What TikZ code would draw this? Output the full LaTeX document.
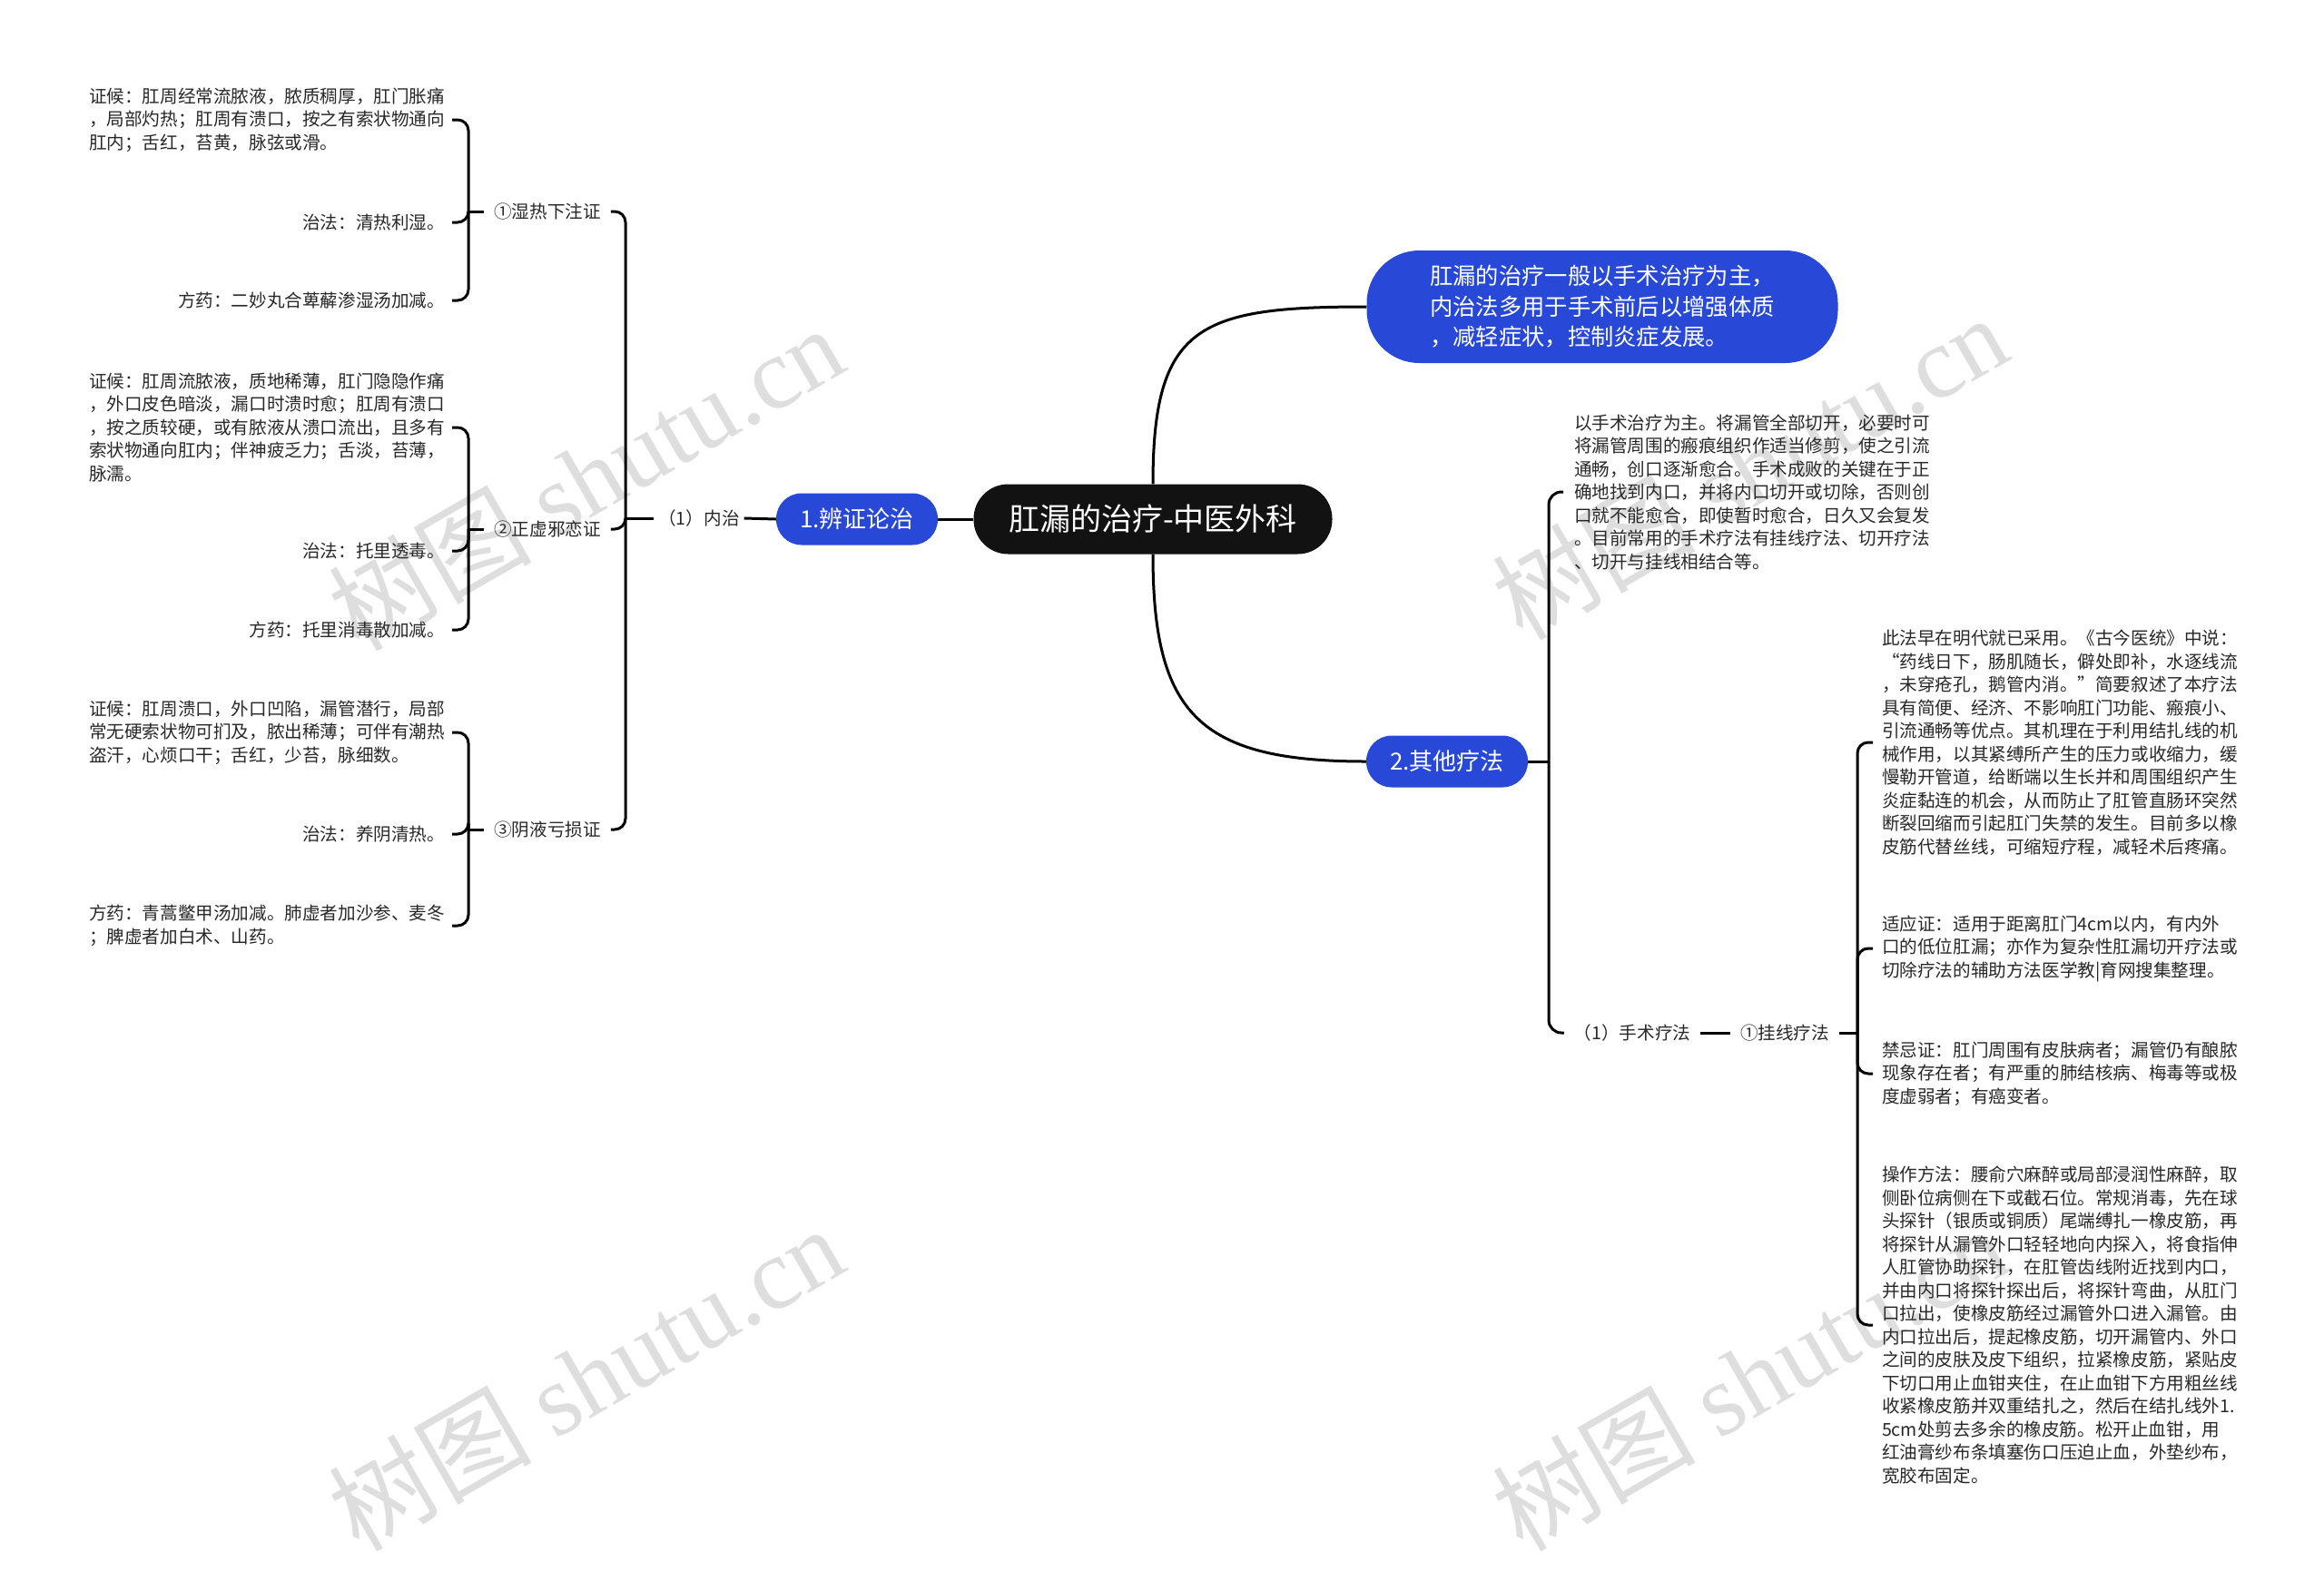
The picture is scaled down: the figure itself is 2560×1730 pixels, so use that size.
\documentclass[tikz,border=0pt]{standalone}
\usepackage{fontspec}
\setmainfont{Noto Sans CJK SC}
\newfontfamily\wmfont{Liberation Serif}
\definecolor{mmblue}{RGB}{40,72,216}
\definecolor{txtc}{RGB}{40,40,40}
\definecolor{wmc}{RGB}{222,222,222}
\begin{document}
\begin{tikzpicture}[x=1pt,y=-1pt,
  small/.style={font=\fontsize{19.6pt}{25.5pt}\selectfont, text=txtc, inner sep=0pt, align=left},
  lbl/.style={small, outer xsep=11pt},
  lt/.style={small, anchor=east, outer xsep=8pt},
  rt/.style={small, anchor=west, outer xsep=10pt},
  bluenode/.style={fill=mmblue, text=white, rounded corners=28pt, minimum width=178pt, minimum height=57pt, font=\fontsize{26pt}{30pt}\selectfont, inner sep=0pt},
  link/.style={line width=3pt, black},
  brk/.style={link, rounded corners=12pt},
  wm/.style={rotate=30, text=wmc, font=\fontsize{112pt}{112pt}\selectfont, inner sep=0pt}
]
\useasboundingbox (0,0) rectangle (2560,1730);
\fill[white] (0,0) rectangle (2560,1730);

% watermarks
\node[wm] (wm1) at (645,526) {树图 {\wmfont shutu.cn}};
\node[wm] (wm2) at (1927,514) {树图 {\wmfont shutu.cn}};
\node[wm] (wm3) at (645,1518) {树图 {\wmfont shutu.cn}};
\node[wm] (wm4) at (1927,1518) {树图 {\wmfont shutu.cn}};

% main nodes
\node[fill=black!93, text=white, rounded corners=38pt, minimum width=395pt, minimum height=77pt, inner sep=0pt, font=\fontsize{34pt}{40pt}\selectfont] (root) at (1270,572) {肛漏的治疗-中医外科};
\node[bluenode] (bz) at (944,572) {1.辨证论治};
\node[bluenode] (qt) at (1594,839) {2.其他疗法};
\node[fill=mmblue, text=white, rounded corners=58pt, minimum width=519pt, minimum height=124pt, inner sep=0pt, align=left, font=\fontsize{25.3pt}{33.5pt}\selectfont] (top) at (1765,338) {肛漏的治疗一般以手术治疗为主，\\内治法多用于手术前后以增强体质\\，减轻症状，控制炎症发展。};

% left branch
\node[lbl, outer xsep=5pt] (nz) at (770,571) {（1）内治};
\node[lbl] (s1) at (603,233) {①湿热下注证};
\node[lbl] (s2) at (603,583) {②正虚邪恋证};
\node[lbl] (s3) at (603,914) {③阴液亏损证};

\node[lt] (a1) at (498,132) {证候：肛周经常流脓液，脓质稠厚，肛门胀痛\\，局部灼热；肛周有溃口，按之有索状物通向\\肛内；舌红，苔黄，脉弦或滑。};
\node[lt] (b1) at (498,245) {治法：清热利湿。};
\node[lt] (c1) at (498,331) {方药：二妙丸合萆薢渗湿汤加减。};

\node[lt] (a2) at (498,471) {证候：肛周流脓液，质地稀薄，肛门隐隐作痛\\，外口皮色暗淡，漏口时溃时愈；肛周有溃口\\，按之质较硬，或有脓液从溃口流出，且多有\\索状物通向肛内；伴神疲乏力；舌淡，苔薄，\\脉濡。};
\node[lt] (b2) at (498,607) {治法：托里透毒。};
\node[lt] (c2) at (498,694) {方药：托里消毒散加减。};

\node[lt] (a3) at (498,807) {证候：肛周溃口，外口凹陷，漏管潜行，局部\\常无硬索状物可扪及，脓出稀薄；可伴有潮热\\盗汗，心烦口干；舌红，少苔，脉细数。};
\node[lt] (b3) at (498,919) {治法：养阴清热。};
\node[lt] (c3) at (498,1020) {方药：青蒿鳖甲汤加减。肺虚者加沙参、麦冬\\；脾虚者加白术、山药。};

% right branch
\node[rt, outer xsep=12pt] (r1) at (1722,542) {以手术治疗为主。将漏管全部切开，必要时可\\将漏管周围的瘢痕组织作适当修剪，使之引流\\通畅，创口逐渐愈合。手术成败的关键在于正\\确地找到内口，并将内口切开或切除，否则创\\口就不能愈合，即使暂时愈合，日久又会复发\\。目前常用的手术疗法有挂线疗法、切开疗法\\、切开与挂线相结合等。};
\node[lbl] (sh) at (1798,1138) {（1）手术疗法};
\node[lbl] (gx) at (1966,1138) {①挂线疗法};

\node[rt] (g1) at (2063,818) {此法早在明代就已采用。《古今医统》中说：\\“药线日下，肠肌随长，僻处即补，水逐线流\\，未穿疮孔，鹅管内消。”简要叙述了本疗法\\具有简便、经济、不影响肛门功能、瘢痕小、\\引流通畅等优点。其机理在于利用结扎线的机\\械作用，以其紧缚所产生的压力或收缩力，缓\\慢勒开管道，给断端以生长并和周围组织产生\\炎症黏连的机会，从而防止了肛管直肠环突然\\断裂回缩而引起肛门失禁的发生。目前多以橡\\皮筋代替丝线，可缩短疗程，减轻术后疼痛。};
\node[rt] (g2) at (2063,1045) {适应证：适用于距离肛门4cm以内，有内外\\口的低位肛漏；亦作为复杂性肛漏切开疗法或\\切除疗法的辅助方法医学教|育网搜集整理。};
\node[rt] (g3) at (2063,1183) {禁忌证：肛门周围有皮肤病者；漏管仍有酿脓\\现象存在者；有严重的肺结核病、梅毒等或极\\度虚弱者；有癌变者。};
\node[rt] (g4) at (2063,1460) {操作方法：腰俞穴麻醉或局部浸润性麻醉，取\\侧卧位病侧在下或截石位。常规消毒，先在球\\头探针（银质或铜质）尾端缚扎一橡皮筋，再\\将探针从漏管外口轻轻地向内探入，将食指伸\\人肛管协助探针，在肛管齿线附近找到内口，\\并由内口将探针探出后，将探针弯曲，从肛门\\口拉出，使橡皮筋经过漏管外口进入漏管。由\\内口拉出后，提起橡皮筋，切开漏管内、外口\\之间的皮肤及皮下组织，拉紧橡皮筋，紧贴皮\\下切口用止血钳夹住，在止血钳下方用粗丝线\\收紧橡皮筋并双重结扎之，然后在结扎线外1.\\5cm处剪去多余的橡皮筋。松开止血钳，用\\红油膏纱布条填塞伤口压迫止血，外垫纱布，\\宽胶布固定。};

% junctions
\coordinate (jnz) at (689,571);
\coordinate (js1) at (516,233);
\coordinate (js2) at (516,583);
\coordinate (js3) at (516,914);
\coordinate (jqt) at (1706,839);
\coordinate (jgx) at (2046,1138);

% connectors
\draw[link] (root.west) -- (bz.east);
\draw[link] (root.north) .. controls +(0,-175) and +(-185,0) .. (top.west);
\draw[link] (root.south) .. controls +(0,175) and +(-185,0) .. (qt.west);

\draw[link] (bz.west) -- (nz.east);
\draw[link] (nz.west) -- (jnz);
\foreach \c in {s1,s2,s3} \draw[brk] (jnz) |- (\c.east);
\draw[link] (s1.west) -- (js1);
\draw[link] (s2.west) -- (js2);
\draw[link] (s3.west) -- (js3);
\foreach \c in {a1,b1,c1} \draw[brk] (js1) |- (\c.east);
\foreach \c in {a2,b2,c2} \draw[brk] (js2) |- (\c.east);
\foreach \c in {a3,b3,c3} \draw[brk] (js3) |- (\c.east);

\draw[link] (qt.east) -- (jqt);
\draw[brk, rounded corners=14pt] (jqt) |- (r1.west);
\draw[brk, rounded corners=14pt] (jqt) |- (sh.west);
\draw[link] (sh.east) -- (gx.west);
\draw[link] (gx.east) -- (jgx);
\foreach \c in {g1,g2,g3,g4} \draw[brk] (jgx) |- (\c.west);
\end{tikzpicture}
\end{document}
